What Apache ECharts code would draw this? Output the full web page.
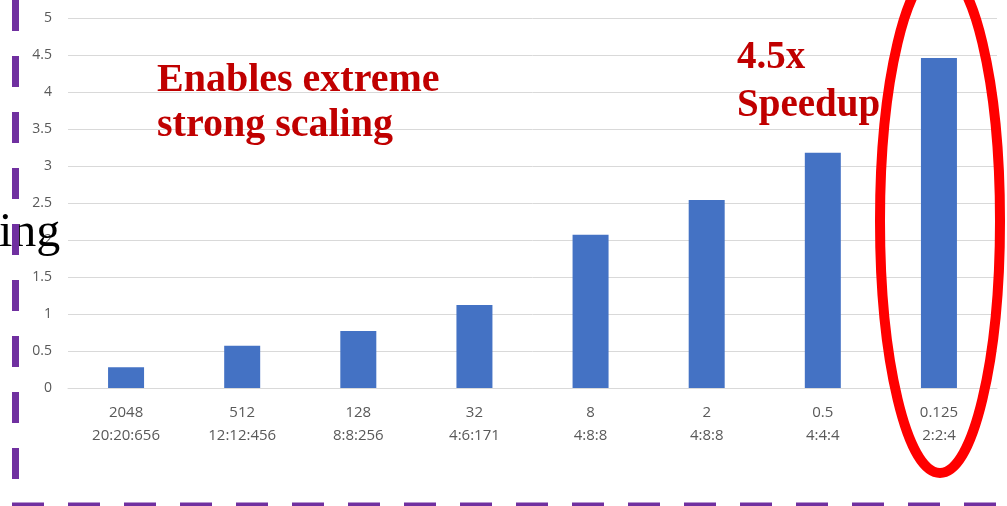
<!DOCTYPE html>
<html><head><meta charset="utf-8">
<script src="https://cdn.jsdelivr.net/npm/echarts@6/dist/echarts.min.js"></script>
<style>html,body{margin:0;padding:0;background:#fff;}#c{width:1007px;height:506px;}</style>
</head><body><div id="c"></div>
<script>
const categories = ["2048\n20:20:656","512\n12:12:456","128\n8:8:256","32\n4:6:171","8\n4:8:8","2\n4:8:8","0.5\n4:4:4","0.125\n2:2:4"];
const speedup = [0.28, 0.57, 0.77, 1.12, 2.07, 2.54, 3.18, 4.46];
const yTicks = [0, 0.5, 1, 1.5, 2, 2.5, 3, 3.5, 4, 4.5, 5];

const chart = echarts.init(document.getElementById('c'), null, {renderer: 'canvas'});
const purple = '#7030A0';
chart.setOption({
  animation: false,
  backgroundColor: '#fff',
  grid: {left: 68, right: 10, top: 18, bottom: 118, containLabel: false},
  xAxis: {
    type: 'category', data: categories,
    axisLine: {show: true, lineStyle: {color: '#d9d9d9', width: 1}},
    axisTick: {show: false},
    axisLabel: {color: '#595959', fontSize: 15, fontFamily: 'Open Sans', lineHeight: 23, margin: 13}
  },
  yAxis: {
    type: 'value', min: yTicks[0], max: yTicks[yTicks.length-1], interval: 0.5,
    axisLine: {show: false}, axisTick: {show: false},
    splitLine: {lineStyle: {color: '#d9d9d9', width: 1}},
    axisLabel: {color: '#595959', fontSize: 14, fontFamily: 'Open Sans', margin: 16}
  },
  series: [{
    type: 'bar', data: speedup, barWidth: 36,
    itemStyle: {color: '#4472C4'}
  }],
  graphic: [
    {type: 'line', shape: {x1: 15.5, y1: 0, x2: 15.5, y2: 506}, style: {stroke: purple, lineWidth: 7, lineDash: [31, 25]}, z: 100},
    {type: 'line', shape: {x1: 12, y1: 504.5, x2: 1007, y2: 504.5}, style: {stroke: purple, lineWidth: 4, lineDash: [32, 24]}, z: 100},
    {type: 'text', left: -1, top: 209, style: {text: 'ing', font: '48px "Liberation Serif"', fill: '#000'}, z: 90},
    {type: 'text', left: 157, top: 58, style: {text: 'Enables extreme\nstrong scaling', font: 'bold 40px "Liberation Serif"', fill: '#C00000', lineHeight: 45}, z: 100},
    {type: 'text', left: 737, top: 34, style: {text: '4.5x\nSpeedup', font: 'bold 39px "Liberation Serif"', fill: '#C00000', lineHeight: 48}, z: 100},
    {type: 'ellipse', shape: {cx: 940, cy: 221, rx: 60, ry: 252}, style: {stroke: '#FF0000', lineWidth: 10, fill: null}, z: 110}
  ]
});
</script></body></html>
